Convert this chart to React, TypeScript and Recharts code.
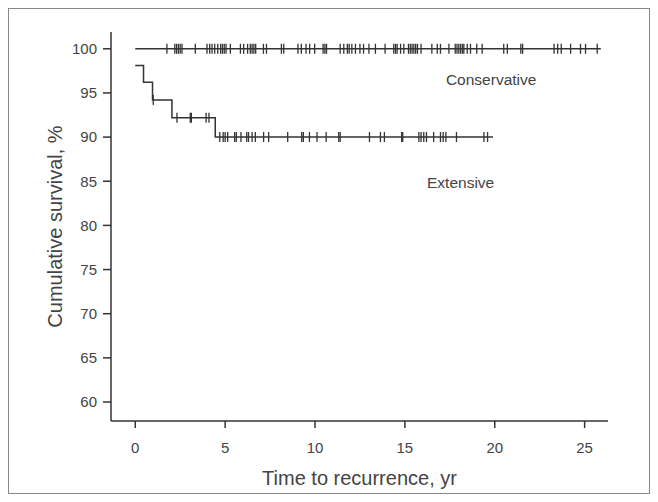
import React from 'react';
import { ComposedChart, Line, Scatter, XAxis, YAxis, ReferenceDot } from 'recharts';

const xTicks = [0, 5, 10, 15, 20, 25];
const yTicks = [60, 65, 70, 75, 80, 85, 90, 95, 100];

const conservativeTimes = [0, 25.9];
const conservativeValues = [100, 100];
const conservativeCensored = [
  1.76, 2.2, 2.3, 2.4, 2.5, 2.6, 3.34, 3.99, 4.14, 4.27, 4.42, 4.59, 4.75, 4.85, 4.95, 5.05, 5.29,
  5.85, 6.03, 6.25, 6.4, 6.5, 6.6, 6.7, 7.13, 7.3, 8.13, 8.26, 9.05, 9.24, 9.5, 9.7, 9.98, 10.45,
  10.55, 10.64, 11.4, 11.6, 11.8, 11.9, 12.05, 12.25, 12.5, 12.7, 13.0, 13.36, 13.9, 14.38, 14.48,
  14.57, 14.76, 14.94, 15.2, 15.3, 15.4, 15.5, 15.6, 15.7, 15.9, 16.5, 16.8, 16.98, 17.45, 17.8,
  17.9, 18.0, 18.1, 18.2, 18.28, 18.47, 18.65, 19.0, 19.3, 20.5, 20.7, 21.45, 21.55, 23.3, 23.5,
  23.7, 24.22, 24.77, 25.05, 25.7,
];

const extensiveTimes = [0, 0.46, 0.96, 2.04, 4.45, 19.9];
const extensiveValues = [98.1, 96.2, 94.2, 92.2, 90.0, 90.0];
const extensiveCensored = [
  1.0, 2.32, 3.06, 3.12, 3.94, 4.1, 4.7, 4.89, 5.0, 5.14, 5.53, 5.62, 5.88, 6.2, 6.3, 6.5, 6.68,
  7.14, 7.42, 8.48, 9.26, 9.35, 9.69, 10.11, 10.62, 11.32, 11.4, 13.03, 13.64, 13.86, 14.82, 14.88,
  15.78, 15.9, 16.05, 16.2, 16.6, 16.98, 17.13, 17.28, 17.87, 19.4, 19.6,
];

const levelAt = (times: number[], values: number[], t: number) => {
  let v = values[0];
  for (let i = 0; i < times.length; i++) if (times[i] <= t) v = values[i];
  return v;
};

const conservativeLine = conservativeTimes.map((x, i) => ({ x, y: conservativeValues[i] }));
const extensiveLine = extensiveTimes.map((x, i) => ({ x, y: extensiveValues[i] }));
const conservativeMarks = conservativeCensored.map((x) => ({ x, y: levelAt(conservativeTimes, conservativeValues, x) }));
const extensiveMarks = extensiveCensored.map((x) => ({ x, y: levelAt(extensiveTimes, extensiveValues, x) }));

const INK = '#333';
const TEXT = '#444';
const FONT = '"Liberation Sans", Arial, Helvetica, sans-serif';

const CensorTick = (props: any) => {
  const { cx, cy } = props;
  if (cx == null || cy == null) return null;
  return <line x1={cx} x2={cx} y1={cy - 5} y2={cy + 5} stroke={INK} strokeWidth={1.3} />;
};

export default function App() {
  return (
    <div style={{ position: 'relative', width: 642, height: 486, fontFamily: FONT }}>
      <div
        style={{
          position: 'absolute', left: 0, top: 0, width: 642, height: 486,
          border: '1px solid #888', boxSizing: 'border-box', pointerEvents: 'none',
        }}
      />
      <ComposedChart
        width={642}
        height={486}
        margin={{ top: 24, right: 42, bottom: 3, left: 13 }}
        style={{ fontFamily: FONT }}
      >
        <XAxis
          type="number"
          dataKey="x"
          domain={[-1.35, 26.3]}
          ticks={xTicks}
          allowDataOverflow
          height={70}
          tickSize={7}
          tickMargin={14}
          stroke={INK}
          strokeWidth={1.5}
          tick={{ fill: TEXT, fontSize: 15, fontFamily: FONT }}
          label={{ value: 'Time to recurrence, yr', position: 'insideBottom', offset: 6, fill: TEXT, fontSize: 20, fontFamily: FONT }}
        />
        <YAxis
          type="number"
          dataKey="y"
          domain={[57.85, 101.9]}
          ticks={yTicks}
          allowDataOverflow
          width={90}
          tickSize={8}
          tickMargin={6}
          stroke={INK}
          strokeWidth={1.5}
          tick={{ fill: TEXT, fontSize: 15, fontFamily: FONT }}
          label={{
            value: 'Cumulative survival, %', angle: -90, position: 'insideLeft', offset: 34,
            fill: TEXT, fontSize: 20, fontFamily: FONT, style: { textAnchor: 'middle' },
          }}
        />
        <Line data={conservativeLine} dataKey="y" type="stepAfter" stroke={INK} strokeWidth={1.5} dot={false} activeDot={false} isAnimationActive={false} />
        <Line data={extensiveLine} dataKey="y" type="stepAfter" stroke={INK} strokeWidth={1.5} dot={false} activeDot={false} isAnimationActive={false} />
        <Scatter data={conservativeMarks} dataKey="y" shape={CensorTick} isAnimationActive={false} />
        <Scatter data={extensiveMarks} dataKey="y" shape={CensorTick} isAnimationActive={false} />
        <ReferenceDot x={19.8} y={96.5} r={0} stroke="none" fill="none"
          label={{ value: 'Conservative', position: 'center', fill: TEXT, fontSize: 15.5, fontFamily: FONT }} />
        <ReferenceDot x={18.1} y={84.9} r={0} stroke="none" fill="none"
          label={{ value: 'Extensive', position: 'center', fill: TEXT, fontSize: 15.5, fontFamily: FONT }} />
      </ComposedChart>
    </div>
  );
}
